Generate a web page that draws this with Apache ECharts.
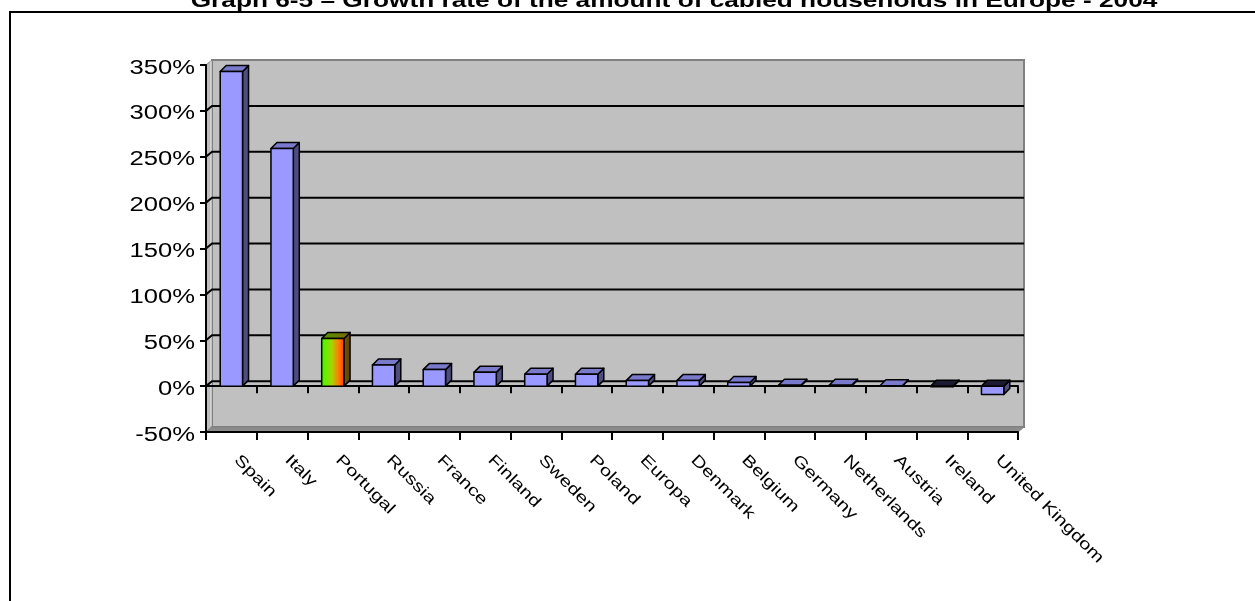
<!DOCTYPE html>
<html>
<head>
<meta charset="utf-8">
<script src="https://cdn.jsdelivr.net/npm/echarts@6/dist/echarts.min.js"></script>
<style>
  html, body { margin: 0; padding: 0; background: #ffffff; }
  #chart { width: 1255px; height: 601px; }
</style>
</head>
<body>
<div id="chart"></div>
<script>
// Growth of cabled households by country, 2004
const titleText = 'Graph 6-5 \u2013 Growth rate of the amount of cabled households in Europe - 2004';
const categories = ['Spain', 'Italy', 'Portugal', 'Russia', 'France', 'Finland', 'Sweden', 'Poland',
  'Europa', 'Denmark', 'Belgium', 'Germany', 'Netherlands', 'Austria', 'Ireland', 'United Kingdom'];
const growth = [343, 259, 52, 23, 18, 15, 13, 13, 6, 6, 4, 1, 1, 0.5, -0.6, -9];
const highlighted = 'Portugal';
const yTicks = [-50, 0, 50, 100, 150, 200, 250, 300, 350];

const FONT = "'Liberation Sans', Arial, sans-serif";
const WALL_DX = 6, WALL_DY = -5;   // depth of the 3D walls
const BAR_DX = 6, BAR_DY = -6;     // depth of each 3D column
const TEXT_STRETCH = 1.28;         // wide-set lettering

const chart = echarts.init(document.getElementById('chart'));

function renderWalls(params, api) {
  const cs = params.coordSys;
  const gx = cs.x, gy = cs.y, gw = cs.width, gh = cs.height;
  const children = [];
  // back wall
  children.push({
    type: 'rect',
    shape: { x: gx + WALL_DX, y: gy + WALL_DY, width: gw, height: gh },
    style: { fill: '#C0C0C0', stroke: '#808080', lineWidth: 2 }
  });
  // left side wall
  children.push({
    type: 'polygon',
    shape: { points: [[gx, gy], [gx + WALL_DX, gy + WALL_DY], [gx + WALL_DX, gy + gh + WALL_DY], [gx, gy + gh]] },
    style: { fill: '#BDBDBD', stroke: '#808080', lineWidth: 1 }
  });
  // light inner edge where side wall meets back wall
  children.push({
    type: 'line',
    shape: { x1: gx + WALL_DX - 1, y1: gy + WALL_DY + 1, x2: gx + WALL_DX - 1, y2: gy + gh + WALL_DY - 1 },
    style: { stroke: '#E6E6E6', lineWidth: 1 }
  });
  // floor
  children.push({
    type: 'polygon',
    shape: { points: [[gx, gy + gh], [gx + WALL_DX, gy + gh + WALL_DY], [gx + gw + WALL_DX, gy + gh + WALL_DY], [gx + gw, gy + gh]] },
    style: { fill: '#8C8C8C', stroke: '#808080', lineWidth: 1 }
  });
  // gridlines on side and back wall
  yTicks.forEach(function (v) {
    if (v <= yTicks[0] || v >= yTicks[yTicks.length - 1]) return;
    const y = api.coord([0, v])[1];
    children.push({
      type: 'polyline',
      shape: { points: [[gx, y], [gx + WALL_DX, y + WALL_DY], [gx + gw + WALL_DX, y + WALL_DY]] },
      style: { fill: 'none', stroke: '#000000', lineWidth: 2 }
    });
  });
  return { type: 'group', children: children };
}

function renderBar(params, api) {
  const idx = api.value(0);
  const v = api.value(1);
  const base = api.coord([idx, 0]);
  const top = api.coord([idx, v]);
  const w = api.size([1, 0])[0] * 0.44;
  const xl = base[0] - w / 2, xr = base[0] + w / 2;
  const yHi = Math.min(base[1], top[1]);
  const yLo = Math.max(base[1], top[1]);
  const special = categories[idx] === highlighted;
  const G = echarts.graphic.LinearGradient;
  const frontFill = special
    ? new G(0, 0, 1, 0, [
        { offset: 0, color: '#33FF00' },
        { offset: 0.45, color: '#A6D600' },
        { offset: 0.75, color: '#FF7A00' },
        { offset: 1, color: '#FF3300' }])
    : '#9999FF';
  const topFill = v < 0 ? '#1A1A33' : (special
    ? new G(0, 0, 1, 0, [{ offset: 0, color: '#4D9900' }, { offset: 1, color: '#806600' }])
    : '#7A7ACC');
  const sideFill = special
    ? new G(0, 0, 1, 0, [{ offset: 0, color: '#666600' }, { offset: 1, color: '#663300' }])
    : '#4D4D80';
  const edge = { stroke: '#000000', lineWidth: 1.5, lineJoin: 'round' };
  return {
    type: 'group',
    children: [
      {
        type: 'polygon',
        shape: { points: [[xr, yHi], [xr + BAR_DX, yHi + BAR_DY], [xr + BAR_DX, yLo + BAR_DY], [xr, yLo]] },
        style: Object.assign({ fill: sideFill }, edge)
      },
      {
        type: 'polygon',
        shape: { points: [[xl, yHi], [xl + BAR_DX, yHi + BAR_DY], [xr + BAR_DX, yHi + BAR_DY], [xr, yHi]] },
        style: Object.assign({ fill: topFill }, edge)
      },
      {
        type: 'rect',
        shape: { x: xl, y: yHi, width: w, height: Math.max(yLo - yHi, 0.5) },
        style: Object.assign({ fill: frontFill }, edge)
      }
    ]
  };
}

function renderValueLabel(params, api) {
  const cs = params.coordSys;
  const v = api.value(1);
  const y = api.coord([0, v])[1];
  return {
    type: 'text',
    x: cs.x - 11,
    y: y + 3,
    scaleX: TEXT_STRETCH,
    style: {
      text: v + '%',
      fontSize: 20,
      fontFamily: FONT,
      fill: '#000000',
      align: 'right',
      verticalAlign: 'middle'
    }
  };
}

function renderCategoryLabel(params, api) {
  const cs = params.coordSys;
  const idx = api.value(0);
  const cx = api.coord([idx, 0])[0];
  return {
    type: 'text',
    x: cx + 11,
    y: cs.y + cs.height + 20,
    rotation: -Math.PI / 4,
    scaleX: TEXT_STRETCH,
    style: {
      text: categories[idx],
      fontSize: 16,
      fontFamily: FONT,
      fill: '#000000',
      align: 'left',
      verticalAlign: 'top'
    }
  };
}

chart.setOption({
  animation: false,
  backgroundColor: '#ffffff',
  grid: { left: 206, right: 237, top: 65, bottom: 169, containLabel: false },
  xAxis: [
    {
      type: 'category',
      data: categories,
      position: 'bottom',
      boundaryGap: true,
      z: 2,
      axisLine: { show: true, onZero: false, lineStyle: { color: '#000000', width: 2 } },
      axisTick: { show: true, length: 8, interval: 0, lineStyle: { color: '#000000', width: 2 } },
      axisLabel: { show: false },
      splitLine: { show: false }
    },
    {
      type: 'category',
      data: categories,
      position: 'bottom',
      boundaryGap: true,
      z: 2,
      axisLine: { show: true, onZero: true, lineStyle: { color: '#000000', width: 2 } },
      axisTick: { show: true, length: 7, interval: 0, lineStyle: { color: '#000000', width: 2 } },
      axisLabel: { show: false },
      splitLine: { show: false }
    }
  ],
  yAxis: {
    type: 'value',
    min: yTicks[0],
    max: yTicks[yTicks.length - 1],
    interval: 50,
    z: 2,
    axisLine: { show: true, lineStyle: { color: '#000000', width: 2 } },
    axisTick: { show: true, length: 6, lineStyle: { color: '#000000', width: 2 } },
    axisLabel: { show: false },
    splitLine: { show: false }
  },
  graphic: [
    {
      type: 'rect',
      silent: true,
      z: -10,
      shape: { x: 10, y: 12, width: 1400, height: 800 },
      style: { fill: 'none', stroke: '#000000', lineWidth: 2 }
    },
    {
      type: 'text',
      x: 674,
      y: 1,
      scaleX: TEXT_STRETCH,
      silent: true,
      style: {
        text: titleText,
        fontSize: 20.5,
        fontWeight: 'bold',
        fontFamily: FONT,
        fill: '#000000',
        align: 'center',
        verticalAlign: 'middle'
      }
    }
  ],
  series: [
    {
      name: 'walls',
      type: 'custom',
      z: 1,
      silent: true,
      clip: false,
      xAxisIndex: 0,
      renderItem: renderWalls,
      data: [[0, 0]]
    },
    {
      name: 'Growth rate',
      type: 'custom',
      z: 3,
      clip: false,
      xAxisIndex: 0,
      renderItem: renderBar,
      data: growth.map(function (v, i) { return [i, v]; })
    },
    {
      name: 'value labels',
      type: 'custom',
      z: 4,
      silent: true,
      clip: false,
      xAxisIndex: 0,
      renderItem: renderValueLabel,
      data: yTicks.map(function (v) { return [0, v]; })
    },
    {
      name: 'category labels',
      type: 'custom',
      z: 4,
      silent: true,
      clip: false,
      xAxisIndex: 0,
      renderItem: renderCategoryLabel,
      data: categories.map(function (c, i) { return [i, 0]; })
    }
  ]
});
</script>
</body>
</html>
